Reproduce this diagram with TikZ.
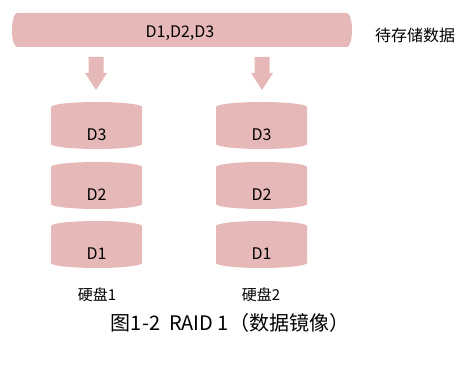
\documentclass[tikz,border=0pt]{standalone}
\usepackage{fontspec}
\setmainfont{Noto Sans CJK SC}
\definecolor{diskpink}{HTML}{E6B9B8}
\tikzset{
    diskfill/.style={fill=diskpink},
    disktext/.style={inner sep=0pt, font=\fontsize{16}{18}\selectfont},
}
\begin{document}
\begin{tikzpicture}[x=1pt,y=1pt]
    \useasboundingbox (0,0) rectangle (461,367);

    % Data to store
    \fill[diskfill] (17,354) arc(90:270:5 and 17) -- (347,320) arc(-90:90:5 and 17) -- cycle;
    \node[disktext] (data) at (180,334) {D1,D2,D3};
    \node[disktext] (datalabel) at (415,332) {待存储数据};

    % Arrows
    \coordinate (arrow1) at (96,310);
    \coordinate (arrow2) at (262,310);
    \foreach \a in {arrow1,arrow2} {
        \fill[diskfill] ([xshift=-7.5pt]\a) -- ([xshift=7.5pt]\a)
            -- ([xshift=7.5pt,yshift=-16pt]\a) -- ([xshift=11pt,yshift=-16pt]\a)
            -- ([yshift=-33pt]\a) -- ([xshift=-11pt,yshift=-16pt]\a)
            -- ([xshift=-7.5pt,yshift=-16pt]\a) -- cycle;
    }

    % Disks
    \foreach \c/\cx in {1/96.5,2/261.5} {
        \foreach \r/\ty in {3/265,2/205,1/146} {
            \fill[diskfill] (\cx-45.5,\ty-5) arc(180:0:45.5 and 5)
                -- (\cx+45.5,\ty-42) arc(0:-180:45.5 and 5) -- cycle;
            \node[disktext] (disk\c\r) at (\cx,\ty-33) {D\r};
        }
    }

    % Labels
    \node[font=\fontsize{15}{17}\selectfont] (disklabel1) at (97,72) {硬盘1};
    \node[font=\fontsize{15}{17}\selectfont] (disklabel2) at (261,72) {硬盘2};
    \node[font=\fontsize{20}{23}\selectfont] (caption) at (230,44) {图1-2\ \ RAID 1（数据镜像）};
\end{tikzpicture}
\end{document}
